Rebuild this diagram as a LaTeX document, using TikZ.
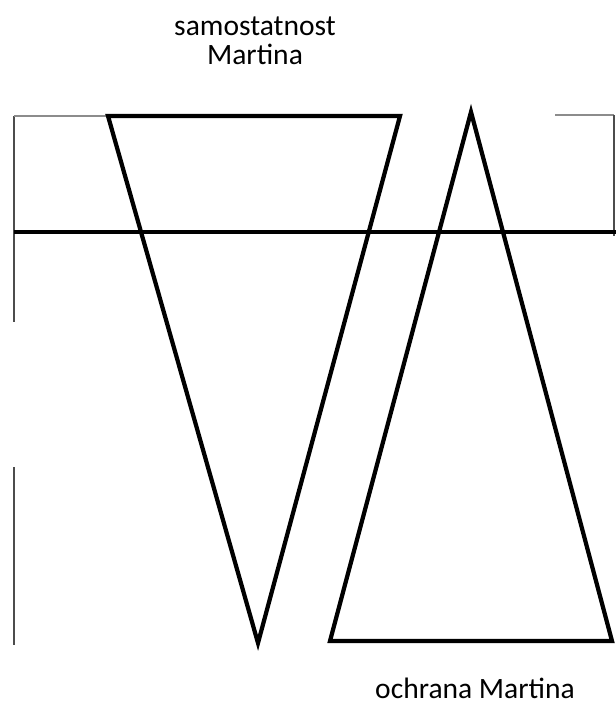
\documentclass[tikz,border=0pt]{standalone}
\usepackage{fontspec}
\setmainfont{Carlito}
\usetikzlibrary{positioning}

\begin{document}
\begin{tikzpicture}[
    x=0.025cm, y=-0.025cm,
    thick edge/.style={line width=3pt, line join=miter},
    frame/.style={line width=1pt, black!70},
    lbl/.style={font=\fontsize{21}{21}\selectfont, align=center, inner sep=0pt}
  ]
  \useasboundingbox (0,0) rectangle (616,704);

  % labels
  \node[lbl] (top) at (255,41) {samostatnost\\Martina};
  \node[lbl, anchor=base] (bottom) at (475,698) {ochrana Martina};

  % frame pieces
  \coordinate (ftl) at (14,116);
  \coordinate (fml) at (14,322);
  \coordinate (fbl1) at (14,467);
  \coordinate (fbl2) at (14,645);
  \coordinate (ftr1) at (555,115);
  \coordinate (ftr2) at (614,115);
  \coordinate (fmr) at (614,236);
  \draw[frame] (ftl) -- (fml);
  \draw[frame] (fbl1) -- (fbl2);
  \draw[frame, black!45] (ftl) -- (108,116);
  \draw[frame, black!45] (ftr1) -- (ftr2);
  \draw[frame] (ftr2) -- (fmr);

  % horizontal line
  \coordinate (hl) at (14,232);
  \coordinate (hr) at (616,232);
  \draw[thick edge] (hl) -- (hr);

  % triangle: samostatnost
  \coordinate (s1) at (108,116);
  \coordinate (s2) at (400,116);
  \coordinate (s3) at (258,643);
  \draw[thick edge] (s1) -- (s2) -- (s3) -- cycle;

  % triangle: ochrana
  \coordinate (o1) at (471,112);
  \coordinate (o2) at (612,641);
  \coordinate (o3) at (330,641);
  \draw[thick edge] (o1) -- (o2) -- (o3) -- cycle;
\end{tikzpicture}
\end{document}
